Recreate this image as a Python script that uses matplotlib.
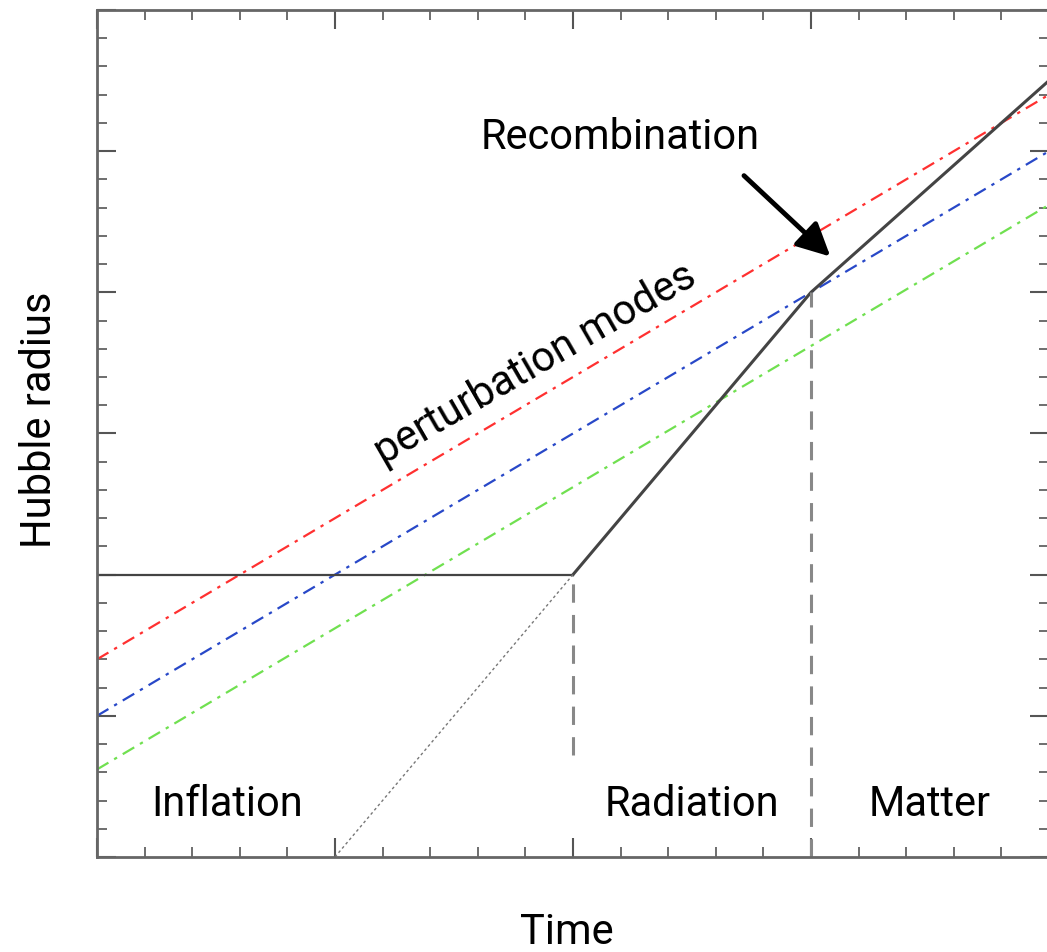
# Hubble radius vs time sketch: inflation, radiation, matter eras

import numpy as np
import matplotlib.pyplot as plt

# Data (x = time, y = Hubble radius, arbitrary units)
hubble_x = [0.0, 2.0, 3.0, 4.0]
hubble_y = [2.0, 2.0, 4.0, 5.5]
extrap_x = [1.0, 2.0]
extrap_y = [0.0, 2.0]
mode_x = [0.0, 4.0]
mode_red = [1.4, 5.4]
mode_blue = [1.0, 5.0]
mode_green = [0.62, 4.62]
era_bounds = [2.0, 3.0]
era_bottoms = [0.72, 0.0]
era_tops = [2.0, 4.0]
era_names = ['Inflation', 'Radiation', 'Matter']
era_label_x = [0.545, 2.5, 3.5]

plt.rcParams['font.family'] = ['Roboto', 'DejaVu Sans']
fs = 30

fig = plt.figure(figsize=(10.47, 9.52), dpi=100)
ax = fig.add_axes([0.0926, 0.0998, 0.9093, 0.8897])

# perturbation modes
ax.plot(mode_x, mode_red, color='#ff3030', lw=1.6, ls=(0, (6, 3, 1.5, 3)))
ax.plot(mode_x, mode_blue, color='#2848c8', lw=1.6, ls=(0, (6, 3, 1.5, 3)))
ax.plot(mode_x, mode_green, color='#70e050', lw=1.6, ls=(0, (6, 3, 1.5, 3)))

# Hubble radius
ax.plot(hubble_x[:2], hubble_y[:2], color='#444444', lw=1.6)
ax.plot(hubble_x[1:], hubble_y[1:], color='#444444', lw=2.2)
ax.plot(extrap_x, extrap_y, color='#777777', lw=1.0, ls=(0, (2, 2)))

# era boundaries
for xb, y0, y1 in zip(era_bounds, era_bottoms, era_tops):
    ax.plot([xb, xb], [y0, y1], color='#888888', lw=2.2, ls=(0, (6, 4)))

for name, xl in zip(era_names, era_label_x):
    ax.text(xl, 0.37, name, fontsize=fs, ha='center', va='center')

ax.text(1.84, 3.49, 'perturbation modes', fontsize=fs,
        rotation=30, ha='center', va='center', rotation_mode='anchor')
ax.text(2.2, 5.1, 'Recombination', fontsize=fs, ha='center', va='center')
ax.annotate('', xy=(3.09, 4.24), xytext=(2.71, 4.84),
            arrowprops=dict(arrowstyle='-|>,head_length=2.0,head_width=1.0',
                            color='black', lw=3.5))

ax.set_xlim(0, 4)
ax.set_ylim(0, 6)
ax.set_xticks(np.arange(0, 4.01, 1))
ax.set_xticks(np.arange(0, 4.01, 0.2), minor=True)
ax.set_yticks(np.arange(0, 6.01, 1))
ax.set_yticks(np.arange(0, 6.01, 0.2), minor=True)
ax.tick_params(which='both', direction='in', top=True, right=True,
               labelbottom=False, labelleft=False, color='#555555')
ax.tick_params(which='major', length=14, width=1.5)
ax.tick_params(which='minor', length=7, width=1.2)
for sp in ax.spines.values():
    sp.set_color('#666666')
    sp.set_linewidth(2)

fig.text(40 / 1047, 1 - 420 / 952, 'Hubble radius', fontsize=fs,
         rotation=90, ha='center', va='center')
fig.text(567 / 1047, 1 - 933 / 952, 'Time', fontsize=fs,
         ha='center', va='center')

fig.savefig('out.png', dpi=100)
